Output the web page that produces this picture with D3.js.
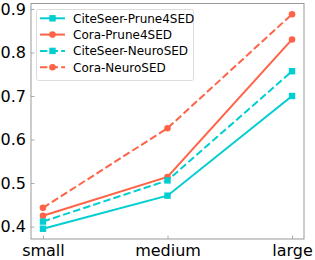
<!DOCTYPE html>
<html><head><meta charset="utf-8">
<script src="https://cdn.jsdelivr.net/npm/d3@7"></script>
<style>body{margin:0;background:#fff}svg{display:block}</style>
</head><body>
<script>
const categories = ["small", "medium", "large"];
const citeseerPrune = [0.395, 0.471, 0.700];
const coraPrune = [0.425, 0.514, 0.830];
const citeseerNeuro = [0.4115, 0.506, 0.757];
const coraNeuro = [0.443, 0.626, 0.888];
const yTicks = [0.4, 0.5, 0.6, 0.7, 0.8, 0.9];
const seriesNames = ["CiteSeer-Prune4SED", "Cora-Prune4SED", "CiteSeer-NeuroSED", "Cora-NeuroSED"];

const W = 315, H = 260;
const m = {l: 31, r: 11, t: 3.5, b: 21};
const cyan = "#00ced1", red = "#ff6347";
const series = [
  {name: seriesNames[0], values: citeseerPrune, color: cyan, dash: null, marker: "square"},
  {name: seriesNames[1], values: coraPrune, color: red, dash: null, marker: "circle"},
  {name: seriesNames[2], values: citeseerNeuro, color: cyan, dash: "7.4,3.2", marker: "square"},
  {name: seriesNames[3], values: coraNeuro, color: red, dash: "7.4,3.2", marker: "circle"}
];

const svg = d3.select("body").append("svg").attr("width", W).attr("height", H);
const x = d3.scalePoint().domain(categories).range([m.l, W - m.r]).padding(0.096);
const yMin = 0.3714, yMax = 0.9126;
const y = d3.scaleLinear().domain([yMin, yMax]).range([H - m.b, m.t]);

const font = "DejaVu Sans, sans-serif";
const gx = svg.append("g").attr("transform", `translate(0,${H - m.b})`)
  .call(d3.axisBottom(x).tickSizeInner(-3.5).tickSizeOuter(0).tickPadding(6));
const gy = svg.append("g").attr("transform", `translate(${m.l},0)`)
  .call(d3.axisLeft(y).tickValues(yTicks).tickFormat(d3.format(".1f")).tickSizeInner(-3.5).tickSizeOuter(0).tickPadding(5));
[gx, gy].forEach(g => {
  g.select(".domain").remove();
  g.selectAll(".tick line").attr("stroke", "#999").attr("stroke-width", 0.8);
  g.selectAll(".tick text").attr("font-family", font).attr("font-size", 16).attr("fill", "#000");
});

svg.append("rect").attr("x", m.l).attr("y", m.t).attr("width", W - m.l - m.r).attr("height", H - m.t - m.b)
  .attr("fill", "none").attr("stroke", "#999").attr("stroke-width", 1);

const line = d3.line().x((d, i) => x(categories[i])).y(d => y(d));
function marker(g, type, cx, cy, color, s) {
  if (type === "square") g.append("rect").attr("x", cx - s).attr("y", cy - s).attr("width", 2 * s).attr("height", 2 * s).attr("fill", color);
  else g.append("circle").attr("cx", cx).attr("cy", cy).attr("r", s).attr("fill", color);
}
series.forEach(s => {
  const g = svg.append("g");
  g.append("path").datum(s.values).attr("d", line).attr("fill", "none").attr("stroke", s.color)
    .attr("stroke-width", 2).attr("stroke-dasharray", s.dash);
  s.values.forEach((v, i) => marker(g, s.marker, x(categories[i]), y(v), s.color, s.marker === "square" ? 3.2 : 3.3));
});

// legend
const lg = svg.append("g");
lg.append("rect").attr("x", 36.5).attr("y", 9.5).attr("width", 157).attr("height", 71).attr("rx", 2)
  .attr("fill", "#fff").attr("fill-opacity", 0.8).attr("stroke", "#ddd");
series.forEach((s, i) => {
  const cy = 18.3 + i * 16.3;
  lg.append("line").attr("x1", 40).attr("x2", 65).attr("y1", cy).attr("y2", cy).attr("stroke", s.color)
    .attr("stroke-width", 2).attr("stroke-dasharray", s.dash);
  marker(lg, s.marker, 52.5, cy, s.color, s.marker === "square" ? 3.2 : 3.3);
  lg.append("text").attr("x", 73).attr("y", cy).attr("dy", "0.36em").attr("font-family", font)
    .attr("font-size", 12).attr("fill", "#000").text(s.name);
});
</script>
</body></html>
